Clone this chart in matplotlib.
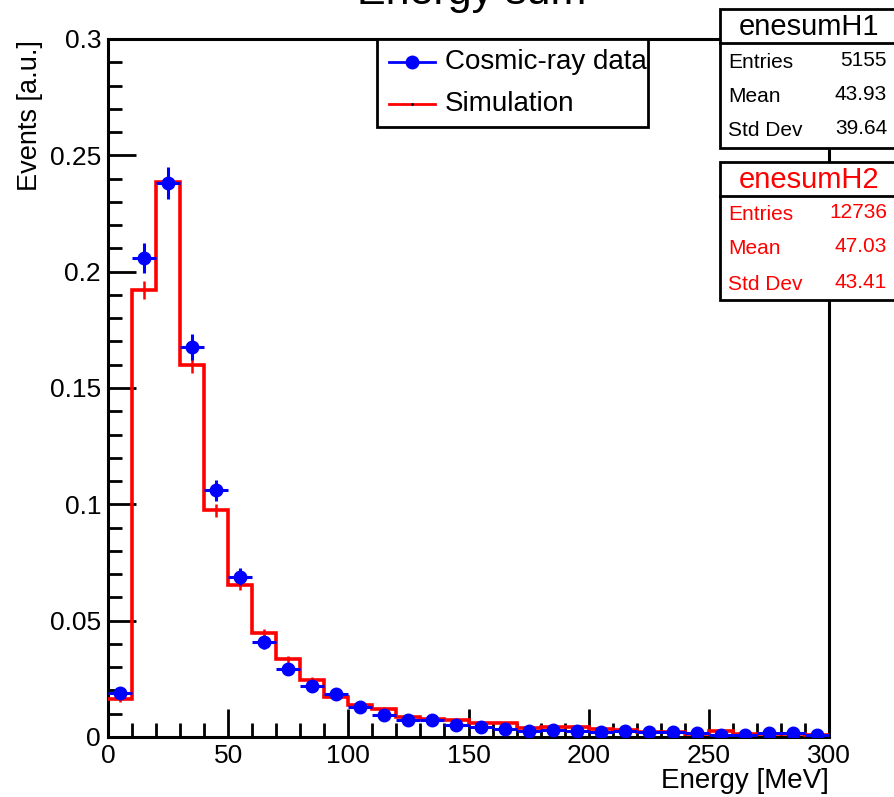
import numpy as np
import matplotlib.pyplot as plt
from matplotlib.patches import Rectangle
from matplotlib.lines import Line2D
from matplotlib.ticker import MultipleLocator

plt.rcParams['font.family'] = ['Liberation Sans', 'DejaVu Sans']

# bin edges [MeV] and normalised contents
edges = np.arange(0, 310, 10)
data_y = [0.0190, 0.2058, 0.2380, 0.1677, 0.1061, 0.0688, 0.0407, 0.0292, 0.0220, 0.0183,
          0.0130, 0.0094, 0.0073, 0.0073, 0.0052, 0.0044, 0.0033, 0.0027, 0.0030, 0.0027,
          0.0023, 0.0025, 0.0023, 0.0020, 0.0019, 0.0010, 0.0007, 0.0018, 0.0018, 0.0010]
sim_y = [0.0163, 0.1920, 0.2384, 0.1599, 0.0975, 0.0653, 0.0445, 0.0334, 0.0245, 0.0170,
         0.0137, 0.0120, 0.0085, 0.0078, 0.0073, 0.0059, 0.0059, 0.0037, 0.0044, 0.0042,
         0.0034, 0.0030, 0.0023, 0.0020, 0.0012, 0.0026, 0.0013, 0.0013, 0.0011, 0.0008]

data_stats = ['enesumH1', 5155, '43.93', '39.64']
sim_stats = ['enesumH2', 12736, '47.03', '43.41']

data_y = np.array(data_y)
sim_y = np.array(sim_y)
centers = 0.5*(edges[:-1] + edges[1:])
# statistical errors from the number of entries
data_err = np.sqrt(data_y/data_stats[1])
sim_err = np.sqrt(sim_y/sim_stats[1])

W, H = 894, 797
def fx(px):
    return px/W
def fy(py):
    return 1 - py/H

fig = plt.figure(figsize=(W/100, H/100), dpi=100)
ax = fig.add_axes([fx(108), fy(737), fx(829) - fx(108), fy(39) - fy(737)])

ax.stairs(sim_y, edges, color='red', lw=2.6, baseline=None, zorder=3)
ax.errorbar(centers, sim_y, yerr=sim_err, fmt='none', ecolor='red', elinewidth=1.8, zorder=3)
ax.errorbar(centers, data_y, xerr=5, yerr=data_err, fmt='o', color='blue', ms=9,
            elinewidth=2.2, capsize=0, zorder=4)

ax.set_xlim(0, 300)
ax.set_ylim(0, 0.3)
ax.xaxis.set_major_locator(MultipleLocator(50))
ax.xaxis.set_minor_locator(MultipleLocator(10))
ax.yaxis.set_minor_locator(MultipleLocator(0.01))
ax.set_yticks([0, 0.05, 0.1, 0.15, 0.2, 0.25, 0.3])
ax.set_yticklabels(['0', '0.05', '0.1', '0.15', '0.2', '0.25', '0.3'])
ax.tick_params(which='both', direction='in', top=False, right=False, width=2, labelsize=19)
ax.tick_params(which='major', length=20, pad=5)
ax.tick_params(which='minor', length=10)
for s in ax.spines.values():
    s.set_linewidth(2.2)

fig.text(fx(472), fy(4), 'Energy sum', ha='center', va='baseline', fontsize=31)
fig.text(fx(30), fy(40), 'Events [a.u.]', rotation=90, ha='center', va='top', fontsize=19.5)
fig.text(fx(829), fy(788), 'Energy [MeV]', ha='right', va='baseline', fontsize=20)

# legend box
fig.patches.append(Rectangle((fx(377), fy(127)), fx(648) - fx(377), fy(39) - fy(127),
                             transform=fig.transFigure, facecolor='white', edgecolor='black',
                             lw=2, zorder=5))
fig.lines.append(Line2D([fx(389), fx(435)], [fy(62), fy(62)], transform=fig.transFigure,
                        color='blue', lw=2, zorder=6))
fig.lines.append(Line2D([fx(412)], [fy(62)], transform=fig.transFigure,
                        color='blue', marker='o', ms=9, zorder=7))
fig.lines.append(Line2D([fx(389), fx(435)], [fy(104), fy(104)], transform=fig.transFigure,
                        color='red', lw=2, zorder=6))
fig.lines.append(Line2D([fx(412)], [fy(104)], transform=fig.transFigure,
                        color='black', marker='.', ms=2, zorder=7))
fig.text(fx(445), fy(62), 'Cosmic-ray data', va='center', fontsize=20, zorder=7)
fig.text(fx(445), fy(104), 'Simulation', va='center', fontsize=20, zorder=7)

# stats boxes
def stats_box(top, sep, bottom, rows, stats, color):
    fig.patches.append(Rectangle((fx(720), fy(bottom)), fx(920) - fx(720), fy(top) - fy(bottom),
                                 transform=fig.transFigure, facecolor='white',
                                 edgecolor='black', lw=2, zorder=5))
    fig.lines.append(Line2D([fx(720), fx(920)], [fy(sep), fy(sep)], transform=fig.transFigure,
                            color='black', lw=2, zorder=6))
    fig.text(fx(809), fy((top + sep)/2 + 1), stats[0], ha='center', va='center',
             fontsize=21, color=color, zorder=7)
    labels = ['Entries', 'Mean', 'Std Dev']
    for lab, val, y in zip(labels, stats[1:], rows):
        fig.text(fx(728), fy(y), lab, va='center', fontsize=15, color=color, zorder=7)
        fig.text(fx(887), fy(y - 2), str(val), ha='right', va='center', fontsize=15,
                 color=color, zorder=7)

stats_box(9, 43, 148, [62, 97, 131], data_stats, 'black')
stats_box(162, 196, 300, [215, 249, 285], sim_stats, 'red')

fig.savefig('out.png', dpi=100)
